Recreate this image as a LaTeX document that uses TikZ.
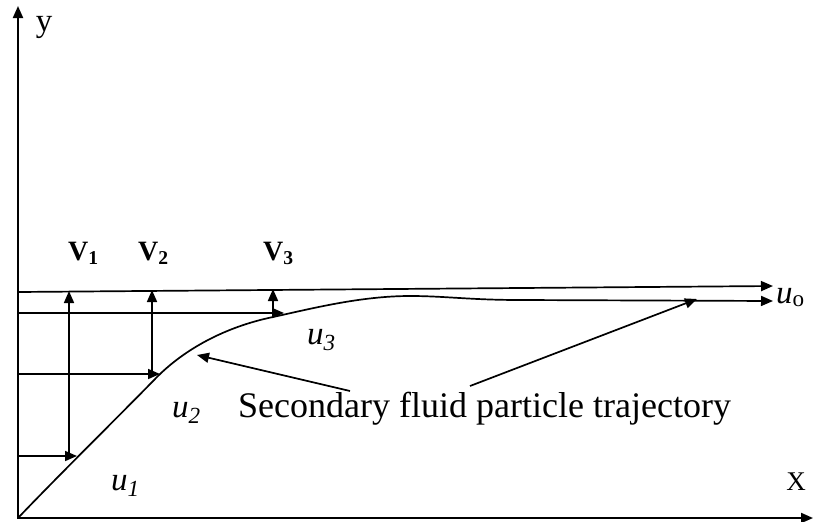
\documentclass[tikz,border=0pt]{standalone}
\usepackage{fontspec}
\setmainfont{Liberation Serif}
\usetikzlibrary{arrows.meta}
\begin{document}
\begin{tikzpicture}[x=1pt,y=-1pt,
  ln/.style={line width=1.7pt},
  arr/.style={ln,-{Triangle[length=12pt,width=10pt]}},
  lbl/.style={inner sep=0pt,font=\fontsize{28}{32}\selectfont},
  ulbl/.style={inner sep=0pt,font=\fontsize{33}{38}\selectfont},
  big/.style={inner sep=0pt,font=\fontsize{36}{42}\selectfont}]
\useasboundingbox (0,0) rectangle (814,522);
% key points
\coordinate (O) at (18,518);
\coordinate (ytop) at (18,6);
\coordinate (xend) at (813,518);
\coordinate (t0) at (18,292);
\coordinate (t1) at (773,286);
\coordinate (c1) at (77,456);
\coordinate (c2) at (160,374);
\coordinate (c3) at (284,313);
\coordinate (l1) at (18,456);
\coordinate (l2) at (18,374);
\coordinate (l3) at (18,313);
\coordinate (v1b) at (69,456);
\coordinate (v2b) at (152,374);
\coordinate (v3b) at (273,313);
\coordinate (v1t) at (69,291);
\coordinate (v2t) at (152,290);
\coordinate (v3t) at (273,289);
\coordinate (p1) at (197,355);
\coordinate (p2) at (697,299);
\coordinate (s1) at (350,391);
\coordinate (s2) at (470,386);
\coordinate (k1) at (157,377);
\coordinate (k2) at (273,317);
\coordinate (k3) at (410,296);
\coordinate (k4) at (520,300);
\coordinate (cend) at (773,301);
% axes
\draw[arr,line width=2pt] (O) -- (ytop);
\draw[arr,line width=2pt] ([xshift=-1pt]O) -- (xend);
% free-stream line
\draw[arr] (t0) -- (t1);
% trajectory curve
\draw[arr] (O) .. controls (60,474) and (120,415) .. (k1)
  .. controls (185,349) and (225,327) .. (k2)
  .. controls (310,309) and (360,296) .. (k3)
  .. controls (445,296) and (470,300) .. (k4) -- (cend);
% horizontal arrows
\draw[arr] (l1) -- (c1);
\draw[arr] (l2) -- (c2);
\draw[ln] (l3) -- (v3b);
\draw[arr] (v3b) -- (c3);
% vertical arrows
\draw[arr] (v1b) -- (v1t);
\draw[arr] (v2b) -- (v2t);
\draw[arr] (v3b) -- (v3t);
% pointers
\draw[arr] (s1) -- (p1);
\draw[arr] (s2) -- (p2);
% labels
\node[ulbl] (ylab) at (44,27) {y};
\node[lbl,font=\fontsize{27}{30}\selectfont] (xlab) at (796,482) {X};
\node[lbl,anchor=base west] (vl1) at (68,260) {\textbf{V\textsubscript{1}}};
\node[lbl,anchor=base west] (vl2) at (138,260) {\textbf{V\textsubscript{2}}};
\node[lbl,anchor=base west] (vl3) at (263,260) {\textbf{V\textsubscript{3}}};
\node[ulbl,anchor=base west] (u1) at (111,490) {\textit{u\textsubscript{1}}};
\node[ulbl,anchor=base west] (u2) at (172,417) {\textit{u\textsubscript{2}}};
\node[ulbl,anchor=base west] (u3) at (307,344) {\textit{u\textsubscript{3}}};
\node[ulbl,anchor=base west] (uo) at (776,303) {\textit{u}\textsubscript{o}};
\node[big,anchor=base west] (sec) at (238,417) {Secondary fluid particle trajectory};
\end{tikzpicture}
\end{document}
